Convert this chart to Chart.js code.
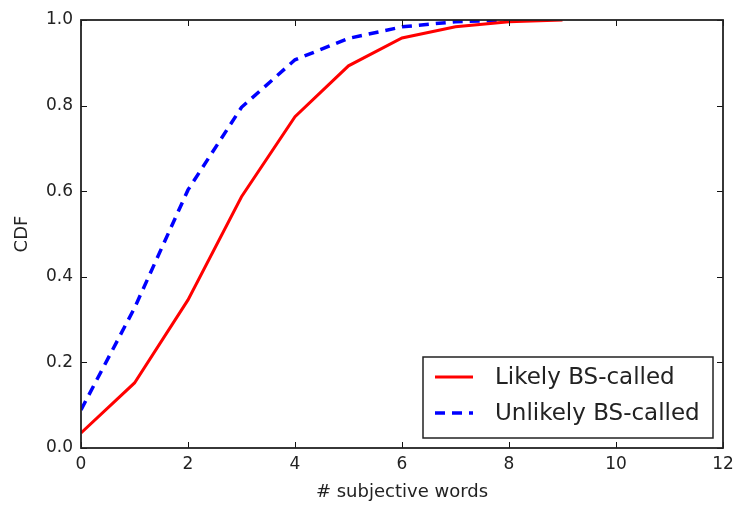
<!DOCTYPE html>
<html>
<head>
<meta charset="utf-8">
<script src="https://cdn.jsdelivr.net/npm/chart.js@4"></script>
<style>
  html, body { margin: 0; padding: 0; background: #fff; }
  #wrap { width: 734px; height: 508px; position: relative; }
</style>
</head>
<body>
<div id="wrap"><canvas id="myChart" width="734" height="508"></canvas></div>
<script>
// datos
const palabras = [0, 1, 2, 3, 4, 5, 6, 7, 8, 9];
const likelyCdf = [0.035, 0.152, 0.346, 0.587, 0.774, 0.893, 0.958, 0.984, 0.996, 1.0];
const unlikelyCdf = [0.089, 0.327, 0.603, 0.796, 0.907, 0.957, 0.984, 0.996, 1.0];
const xTicks = [0, 2, 4, 6, 8, 10, 12];
const yTicks = [0.0, 0.2, 0.4, 0.6, 0.8, 1.0];
const etiquetas = ['Likely BS-called', 'Unlikely BS-called'];

const fuente = "'DejaVu Sans', sans-serif";
const colorTexto = '#222';

function puntos(valores) {
    return valores.map((v, i) => ({ x: palabras[i], y: v }));
}

// marco, ticks hacia adentro y leyenda estilo matplotlib
const marcoPlugin = {
    id: 'marco',
    afterDraw(chart) {
        const ctx = chart.ctx;
        const a = chart.chartArea;
        const xs = chart.scales.x;
        const ys = chart.scales.y;
        ctx.save();
        ctx.strokeStyle = '#111';
        ctx.lineWidth = 1;
        xTicks.forEach(t => {
            const px = Math.round(xs.getPixelForValue(t)) + 0.5;
            ctx.beginPath();
            ctx.moveTo(px, a.bottom); ctx.lineTo(px, a.bottom - 6);
            ctx.moveTo(px, a.top); ctx.lineTo(px, a.top + 6);
            ctx.stroke();
        });
        yTicks.forEach(t => {
            const py = Math.round(ys.getPixelForValue(t)) + 0.5;
            ctx.beginPath();
            ctx.moveTo(a.left, py); ctx.lineTo(a.left + 6, py);
            ctx.moveTo(a.right, py); ctx.lineTo(a.right - 6, py);
            ctx.stroke();
        });
        ctx.lineWidth = 1.8;
        ctx.strokeStyle = '#222';
        ctx.strokeRect(a.left, a.top, a.right - a.left, a.bottom - a.top);

        // leyenda
        const lx = 423, ly = 357, lw = 290, lh = 81;
        ctx.fillStyle = '#fff';
        ctx.fillRect(lx, ly, lw, lh);
        ctx.lineWidth = 1.5;
        ctx.strokeStyle = '#222';
        ctx.strokeRect(lx, ly, lw, lh);
        chart.data.datasets.forEach((ds, i) => {
            const yy = 377 + i * 36;
            ctx.beginPath();
            ctx.strokeStyle = ds.borderColor;
            ctx.lineWidth = ds.borderWidth;
            ctx.setLineDash(ds.borderDash || []);
            ctx.moveTo(435, yy); ctx.lineTo(473, yy);
            ctx.stroke();
            ctx.setLineDash([]);
            ctx.fillStyle = colorTexto;
            ctx.font = "23px " + fuente;
            ctx.textBaseline = 'middle';
            ctx.textAlign = 'left';
            ctx.fillText(ds.label, 495, yy + 1);
        });
        ctx.restore();
    }
};

const ctx = document.getElementById('myChart').getContext('2d');
const grafica = new Chart(ctx, {
    type: 'line',
    data: {
        datasets: [{
            label: etiquetas[0],
            data: puntos(likelyCdf),
            borderColor: '#ff0000',
            borderWidth: 3,
            pointRadius: 0,
            tension: 0,
            fill: false
        }, {
            label: etiquetas[1],
            data: puntos(unlikelyCdf),
            borderColor: '#0000ff',
            borderWidth: 3.5,
            borderDash: [10, 7],
            pointRadius: 0,
            tension: 0,
            fill: false
        }]
    },
    options: {
        responsive: false,
        animation: false,
        layout: { padding: { left: 0, top: 20, right: 11, bottom: 0 } },
        plugins: {
            legend: { display: false },
            tooltip: { enabled: false }
        },
        scales: {
            x: {
                type: 'linear',
                min: 0,
                max: 12,
                afterFit(scale) {
                    scale.height = 60;
                    scale.paddingLeft = 0;
                    scale.paddingRight = 0;
                },
                afterBuildTicks(scale) { scale.ticks = xTicks.map(v => ({ value: v })); },
                grid: { display: false, drawTicks: false },
                border: { display: false },
                ticks: {
                    color: colorTexto,
                    font: { family: fuente, size: 17 },
                    padding: 6,
                    maxRotation: 0,
                    callback: v => String(v)
                },
                title: {
                    display: true,
                    text: '# subjective words',
                    color: colorTexto,
                    font: { family: fuente, size: 18 },
                    padding: { top: 0, bottom: 5 }
                }
            },
            y: {
                type: 'linear',
                min: 0,
                max: 1,
                afterFit(scale) {
                    scale.width = 81;
                    scale.paddingTop = 0;
                    scale.paddingBottom = 0;
                },
                afterBuildTicks(scale) { scale.ticks = yTicks.map(v => ({ value: v })); },
                grid: { display: false, drawTicks: false },
                border: { display: false },
                ticks: {
                    color: colorTexto,
                    font: { family: fuente, size: 17 },
                    padding: 8,
                    callback: v => v.toFixed(1)
                },
                title: {
                    display: true,
                    text: 'CDF',
                    color: colorTexto,
                    font: { family: fuente, size: 18 },
                    padding: { top: 12, bottom: 0 }
                }
            }
        }
    },
    plugins: [marcoPlugin]
});
</script>
</body>
</html>
